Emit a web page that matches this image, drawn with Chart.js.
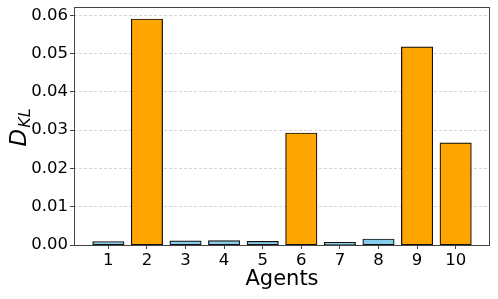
<!DOCTYPE html>
<html>
<head>
<meta charset="utf-8">
<script src="https://cdn.jsdelivr.net/npm/chart.js@4"></script>
<style>
  html, body { margin: 0; padding: 0; background: #fff; }
  #wrap { width: 498px; height: 299px; position: relative; }
</style>
</head>
<body>
<div id="wrap"><canvas id="dkl"></canvas></div>
<script>
const agents = [1, 2, 3, 4, 5, 6, 7, 8, 9, 10];
const dklValues = [0.0008, 0.0590, 0.0010, 0.0011, 0.0009, 0.0292, 0.0006, 0.0015, 0.0517, 0.0266];
const flaggedAgents = [2, 6, 9, 10];
const yTicks = [0, 0.01, 0.02, 0.03, 0.04, 0.05, 0.06];

const ctx = document.getElementById('dkl').getContext('2d');
const font = 'DejaVu Sans';

const colours = agents.map((a) => flaggedAgents.includes(a) ? '#ffa500' : '#87ceeb');

// frame around the plot + the D_KL label with subscript
const extras = {
	id: 'extras',
	afterDraw(chart) {
		const { ctx, chartArea: a } = chart;
		ctx.save();
		ctx.strokeStyle = '#444';
		ctx.lineWidth = 1;
		ctx.strokeRect(Math.round(a.left) + 0.5, Math.round(a.top) + 0.5,
			Math.round(a.right - a.left) - 1, Math.round(a.bottom - a.top));
		ctx.restore();

		ctx.save();
		ctx.translate(21, 128);
		ctx.rotate(-Math.PI / 2);
		ctx.fillStyle = '#000';
		ctx.textBaseline = 'alphabetic';
		ctx.font = 'italic 23px "' + font + '"';
		const wD = ctx.measureText('D').width;
		ctx.font = 'italic 16px "' + font + '"';
		const wS = ctx.measureText('KL').width;
		const start = -(wD + wS) / 2;
		ctx.font = 'italic 23px "' + font + '"';
		ctx.fillText('D', start, 5);
		ctx.font = 'italic 16px "' + font + '"';
		ctx.fillText('KL', start + wD + 1, 9);
		ctx.restore();
	}
};

const chart = new Chart(ctx, {
	type: 'bar',
	data: {
		datasets: [
			{
				data: agents.map((a, i) => ({ x: a, y: dklValues[i] })),
				backgroundColor: colours,
				borderColor: '#111',
				borderWidth: 1.2,
				borderSkipped: false,
				inflateAmount: 0.6,
				barPercentage: 1,
				categoryPercentage: 0.8
			}
		]
	},
	options: {
		responsive: true,
		maintainAspectRatio: false,
		animation: false,
		layout: { padding: { left: 0, top: 7, right: 8, bottom: 0 } },
		plugins: { legend: { display: false }, tooltip: { enabled: false } },
		scales: {
			x: {
				type: 'linear',
				min: 0.11,
				max: 10.89,
				offset: false,
				afterBuildTicks: (scale) => { scale.ticks = agents.map((v) => ({ value: v })); },
				afterFit: (scale) => {
					scale.height = 54;
					scale.paddingLeft = 0;
					scale.paddingRight = 0;
				},
				grid: { offset: false, drawOnChartArea: false, drawTicks: true, tickLength: 4, tickColor: '#444', color: '#444' },
				border: { display: false },
				ticks: { color: '#000', font: { family: font, size: 16.5 }, padding: 2, maxRotation: 0, autoSkip: false },
				title: { display: true, text: 'Agents', color: '#000', font: { family: font, size: 21 }, padding: { top: 0, bottom: 7 } }
			},
			y: {
				min: 0,
				max: 0.0622,
				afterBuildTicks: (scale) => { scale.ticks = yTicks.map((v) => ({ value: v })); },
				afterFit: (scale) => {
					scale.width = 74;
					scale.paddingTop = 0;
					scale.paddingBottom = 0;
				},
				grid: { color: 'rgba(0,0,0,0.16)', tickLength: 4, tickColor: '#444', tickBorderDash: [] },
				border: { display: false, dash: [3, 2] },
				ticks: { color: '#000', font: { family: font, size: 16.5 }, padding: 2, callback: (v) => v.toFixed(2) }
			}
		}
	},
	plugins: [extras]
});
</script>
</body>
</html>
